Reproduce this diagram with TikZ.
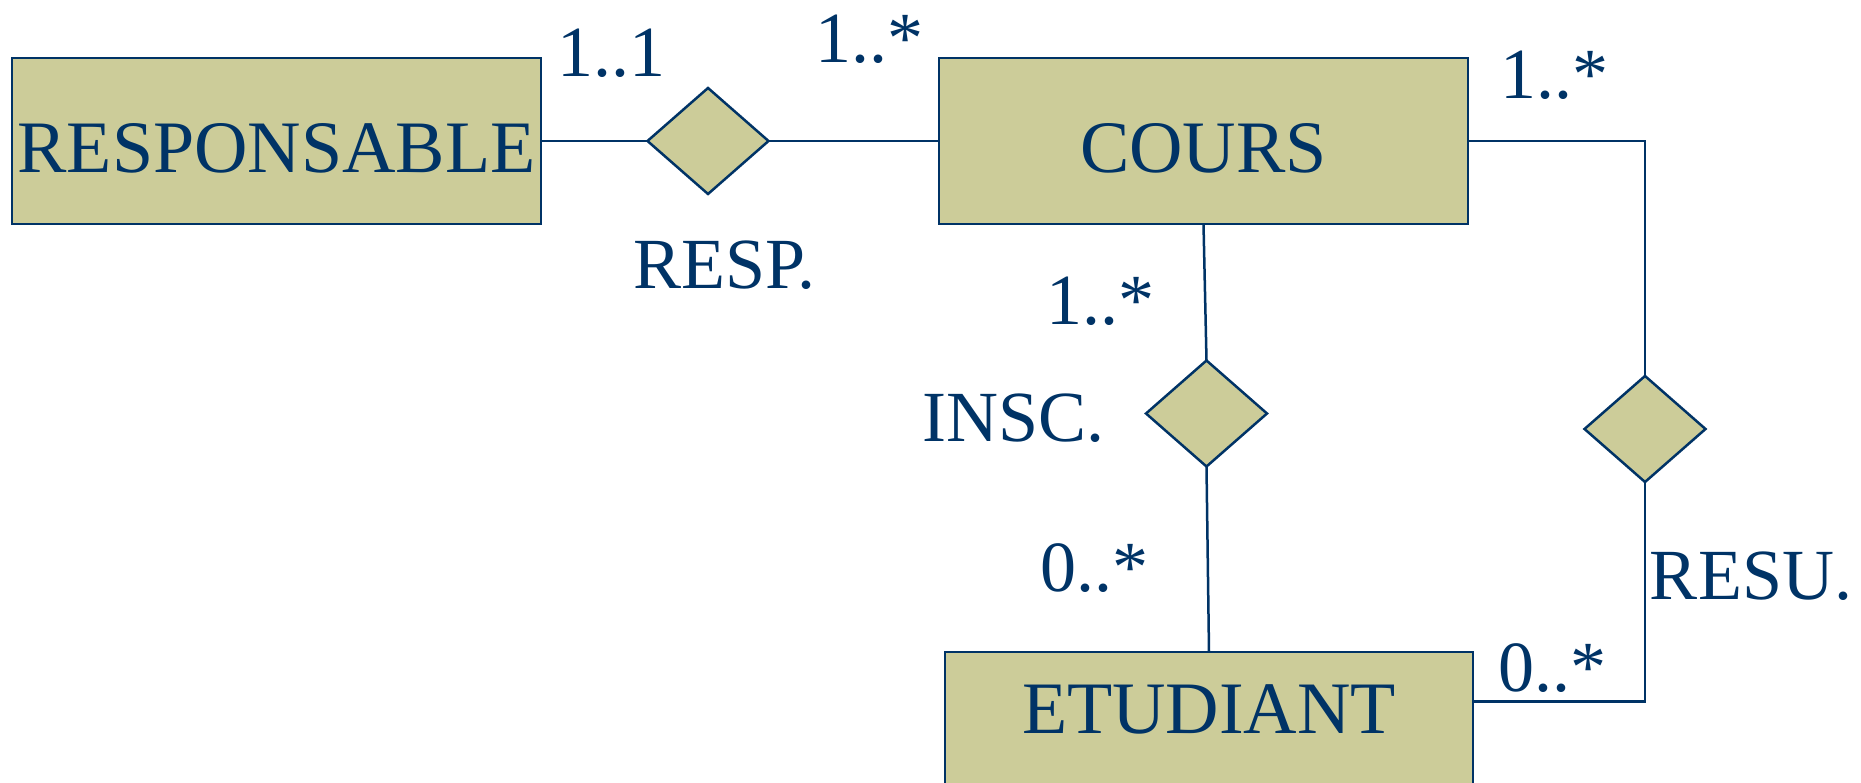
\documentclass[tikz,border=0pt]{standalone}
\usepackage{fontspec}
\setmainfont{Liberation Serif}
\usetikzlibrary{shapes.geometric}
\definecolor{navy}{RGB}{0,51,102}
\definecolor{khaki}{RGB}{204,204,153}
\tikzset{
  entity/.style={draw=navy, fill=khaki, line width=2.8pt, rectangle, inner sep=0pt, outer sep=0pt,
    text=navy, font=\fontsize{74}{80}\selectfont, text height=63pt, text depth=0pt},
  relation/.style={draw=navy, fill=khaki, line width=2.5pt, diamond, inner sep=0pt, outer sep=0pt,
    minimum width=121pt, minimum height=106pt},
  lbl/.style={text=navy, font=\fontsize{72}{78}\selectfont, inner sep=0pt, anchor=base},
  link/.style={draw=navy, line width=2.5pt}
}
\begin{document}
\begin{tikzpicture}[x=1pt, y=-1pt]
\useasboundingbox (0,0) rectangle (1861,783);
\clip (0,0) rectangle (1861,783);
% entities
\node[entity, minimum width=529pt, minimum height=166pt] (respo) at (276.5,141) {RESPONSABLE};
\node[entity, minimum width=529pt, minimum height=166pt] (cours) at (1203.5,141) {COURS};
\node[entity, minimum width=528pt, minimum height=170pt] (etud) at (1209,737) {};
\node[lbl, font=\fontsize{74}{80}\selectfont] (etudtxt) at (1209,733.5) {ETUDIANT};
% relations
\node[relation] (resp) at (708,141) {};
\node[relation] (insc) at (1206.5,413.5) {};
\node[relation] (resu) at (1645,429) {};
\coordinate (etudR) at (1473,701.5);
% connectors
\draw[link] (respo.east) -- (resp.west);
\draw[link] (resp.east) -- (cours.west);
\draw[link] (cours.south) -- (insc.north);
\draw[link] (insc.south) -- (etud.north);
\draw[link] (cours.east) -| (resu.north);
\draw[link] (resu.south) |- (etudR);
% labels
\node[lbl] (m1) at (611,77) {1..1};
\node[lbl] (m2) at (869,63) {1..*};
\node[lbl] (m3) at (1554,98.5) {1..*};
\node[lbl] (lresp) at (724.5,288.5) {RESP.};
\node[lbl] (m4) at (1100,325) {1..*};
\node[lbl] (linsc) at (1013.5,441.5) {INSC.};
\node[lbl] (m5) at (1094,591) {0..*};
\node[lbl] (m6) at (1552.5,691) {0..*};
\node[lbl] (lresu) at (1751,599) {RESU.};
\end{tikzpicture}
\end{document}
